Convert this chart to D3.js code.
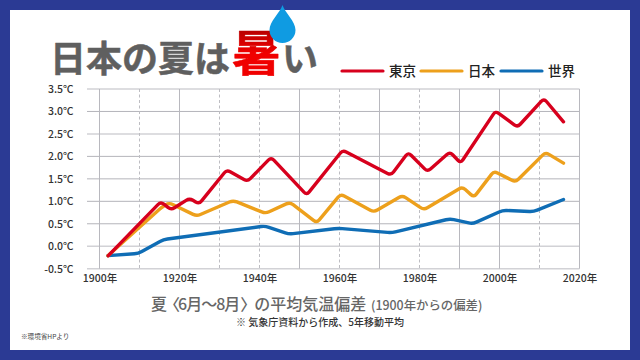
<!DOCTYPE html>
<html lang="ja">
<head>
<meta charset="utf-8">
<script src="https://cdn.jsdelivr.net/npm/d3@7"></script>
<style>
  html, body { margin: 0; padding: 0; background: #fff; }
  text { font-family: "Noto Sans CJK JP", "Noto Sans", sans-serif; }
</style>
</head>
<body>
<svg id="chart" width="640" height="360"></svg>
<script>
const tokyoYears = [1902.2, 1915.3, 1917.9, 1922.5, 1924.9, 1931.8, 1937, 1942.9, 1951.8, 1960.8, 1972.9, 1977.2, 1982, 1987.6, 1990.3, 1999, 2004.5, 2011.1, 2016];
const tokyoValues = [-0.21, 0.99, 0.81, 1.07, 0.94, 1.7, 1.44, 1.98, 1.14, 2.14, 1.58, 2.09, 1.66, 2.1, 1.85, 3.01, 2.65, 3.29, 2.77];

const japanYears = [1902.1, 1915.6, 1917.4, 1924.3, 1933.4, 1941.5, 1947.6, 1954.3, 1960.3, 1968.6, 1975.7, 1981.1, 1990.7, 1993.6, 1998.6, 2004, 2011.5, 2016];
const japanValues = [-0.21, 0.87, 0.97, 0.67, 1.02, 0.73, 0.98, 0.52, 1.16, 0.76, 1.13, 0.81, 1.32, 1.09, 1.67, 1.43, 2.09, 1.85];

const worldYears = [1902.1, 1909.7, 1916, 1941.4, 1947.4, 1959.7, 1973, 1987.6, 1993.3, 2000.8, 2008.5, 2016];
const worldValues = [-0.21, -0.16, 0.15, 0.45, 0.27, 0.4, 0.3, 0.61, 0.5, 0.8, 0.77, 1.04];

const yTicks = [-0.5, 0, 0.5, 1, 1.5, 2, 2.5, 3, 3.5];
const xLabelYears = [1900, 1920, 1940, 1960, 1980, 2000, 2020];
const solidGridYears = [1900, 1920, 1950, 1970, 1990, 2000, 2020];
const dashedGridYears = [1910, 1930, 1940, 1960, 1980, 2010];
const lightGridValues = [-0.5, 0, 2.5, 3.5];
const seriesNames = ["東京", "日本", "世界"];
const seriesColors = ["#d7001d", "#eda01c", "#0f6db5"];

const svg = d3.select("#chart");
const x = d3.scaleLinear().domain([1900, 2020]).range([99.5, 579.5]);
const y = d3.scaleLinear().domain([-0.5, 3.5]).range([268.7, 89]);

//========== Frame ==========
svg.append("rect").attr("width", 640).attr("height", 360).attr("fill", "#2b3a94");
svg.append("rect").attr("x", 10).attr("y", 10).attr("width", 620).attr("height", 340).attr("fill", "#fff");

//========== Grid ==========
const grid = svg.append("g").attr("fill", "none");
grid.selectAll(".h")
  .data(yTicks)
  .enter()
  .append("line")
  .attr("x1", 87)
  .attr("x2", x(2020))
  .attr("y1", d => y(d))
  .attr("y2", d => y(d))
  .attr("stroke", d => (lightGridValues.includes(d) ? "#d2d2d6" : "#b4b4ba"))
  .attr("stroke-width", d => (lightGridValues.includes(d) ? 1.4 : 1));
grid.selectAll(".solid")
  .data(solidGridYears)
  .enter()
  .append("line")
  .attr("x1", d => x(d))
  .attr("x2", d => x(d))
  .attr("y1", y(3.5))
  .attr("y2", y(-0.5))
  .attr("stroke", "#b8b8be");
grid.selectAll(".dashed")
  .data(dashedGridYears)
  .enter()
  .append("line")
  .attr("x1", d => x(d))
  .attr("x2", d => x(d))
  .attr("y1", y(3.5))
  .attr("y2", y(-0.5))
  .attr("stroke", "#bdbdc2")
  .attr("stroke-dasharray", "3 2.5");

//========== Axes ==========
const yAxis = svg.append("g")
  .attr("transform", "translate(73.5,0)")
  .call(d3.axisLeft(y).tickValues(yTicks).tickSize(0).tickPadding(0).tickFormat(d => d.toFixed(1) + "℃"));
const xAxis = svg.append("g")
  .attr("transform", "translate(0,275)")
  .call(d3.axisBottom(x).tickValues(xLabelYears).tickSize(0).tickPadding(0).tickFormat(d => d + "年"));
yAxis.select(".domain").remove();
xAxis.select(".domain").remove();
[yAxis, xAxis].forEach(a => {
  a.selectAll("text")
    .attr("font-size", 10.5)
    .attr("font-weight", 500)
    .attr("fill", "#333")
    .attr("font-family", "'Noto Sans CJK JP'");
});

//========== Lines ==========
// straight segments with slightly rounded corners, like the original artwork
const roundedCorners = radius => context => {
  let pts = [];
  return {
    areaStart() {},
    areaEnd() {},
    lineStart() { pts = []; },
    point(px, py) { pts.push([px, py]); },
    lineEnd() {
      pts.forEach((p, i) => {
        if (i === 0) return context.moveTo(p[0], p[1]);
        if (i === pts.length - 1) return context.lineTo(p[0], p[1]);
        const prev = pts[i - 1];
        const next = pts[i + 1];
        const d1 = Math.hypot(p[0] - prev[0], p[1] - prev[1]);
        const d2 = Math.hypot(next[0] - p[0], next[1] - p[1]);
        const r1 = Math.min(radius, d1 / 2);
        const r2 = Math.min(radius, d2 / 2);
        context.lineTo(p[0] + (prev[0] - p[0]) * r1 / d1, p[1] + (prev[1] - p[1]) * r1 / d1);
        context.quadraticCurveTo(p[0], p[1], p[0] + (next[0] - p[0]) * r2 / d2, p[1] + (next[1] - p[1]) * r2 / d2);
      });
    }
  };
};
const line = d3.line()
  .x(d => x(d[0]))
  .y(d => y(d[1]))
  .curve(roundedCorners(4));
const seriesData = [
  d3.zip(worldYears, worldValues),
  d3.zip(japanYears, japanValues),
  d3.zip(tokyoYears, tokyoValues)
];
const drawOrderColors = [seriesColors[2], seriesColors[1], seriesColors[0]];
svg.selectAll(".series")
  .data(seriesData)
  .enter()
  .append("path")
  .attr("class", "series")
  .attr("fill", "none")
  .attr("stroke", (d, i) => drawOrderColors[i])
  .attr("stroke-width", 3.4)
  .attr("stroke-linejoin", "round")
  .attr("stroke-linecap", "round")
  .attr("d", line);

//========== Legend ==========
const legendLineX = [342, 421, 501];
const legend = svg.selectAll(".legend")
  .data(seriesNames)
  .enter()
  .append("g")
  .attr("class", "legend")
  .attr("transform", (d, i) => `translate(${legendLineX[i]},71)`);
legend.append("line")
  .attr("x1", 0)
  .attr("x2", 41)
  .attr("stroke", (d, i) => seriesColors[i])
  .attr("stroke-width", 3.2)
  .attr("stroke-linecap", "round");
legend.append("text")
  .attr("x", 47)
  .attr("y", 5)
  .attr("font-size", 13.5)
  .attr("font-weight", 500)
  .attr("fill", "#222")
  .text(d => d);

//========== Title ==========
const defs = svg.append("defs");
const grad = defs.append("linearGradient")
  .attr("id", "hot")
  .attr("x1", 0).attr("y1", 0).attr("x2", 0).attr("y2", 1);
grad.append("stop").attr("offset", "0.2").attr("stop-color", "#b30000");
grad.append("stop").attr("offset", "0.55").attr("stop-color", "#f00000");

const titleStyle = sel => sel
  .attr("font-weight", 700)
  .attr("stroke-linejoin", "round")
  .attr("stroke-width", 0.5);
svg.append("text")
  .attr("x", 50)
  .attr("y", 72)
  .attr("font-size", 36)
  .attr("fill", "#5f5f5f")
  .attr("stroke", "#5f5f5f")
  .call(titleStyle)
  .text("日本の夏は");
svg.append("text")
  .attr("x", 232)
  .attr("y", 71)
  .attr("font-size", 49)
  .attr("fill", "url(#hot)")
  .attr("stroke", "url(#hot)")
  .call(titleStyle)
  .text("暑");
svg.append("text")
  .attr("x", 282)
  .attr("y", 72)
  .attr("font-size", 36)
  .attr("fill", "#5f5f5f")
  .attr("stroke", "#5f5f5f")
  .call(titleStyle)
  .text("い");

// water drop on the title
svg.append("path")
  .attr("d", "M282.5 5 C285 13 295.5 21 295.5 30 A13 13 0 0 1 269.5 30 C269.5 21 280 13 282.5 5 Z")
  .attr("fill", "#0f9be2");

//========== Captions ==========
// one text, brackets pulled in per glyph because the original sets them narrow
svg.append("text")
  .attr("x", 151)
  .attr("y", 310)
  .attr("dx", "0 -3 -2 -1 -1 -1 -1 0 -2")
  .attr("font-size", 16)
  .attr("font-weight", 500)
  .attr("fill", "#666")
  .text("夏〈6月〜8月〉の平均気温偏差");
svg.append("text")
  .attr("x", 371)
  .attr("y", 310)
  .attr("font-size", 12.4)
  .attr("font-weight", 500)
  .attr("fill", "#666")
  .text("(1900年からの偏差)");
svg.append("text")
  .attr("x", 236)
  .attr("y", 326)
  .attr("font-size", 10)
  .attr("font-weight", 500)
  .attr("fill", "#333")
  .text("※ 気象庁資料から作成、5年移動平均");
svg.append("text")
  .attr("x", 21)
  .attr("y", 339)
  .attr("font-size", 6.6)
  .attr("fill", "#444")
  .text("※環境省HPより");
</script>
</body>
</html>
